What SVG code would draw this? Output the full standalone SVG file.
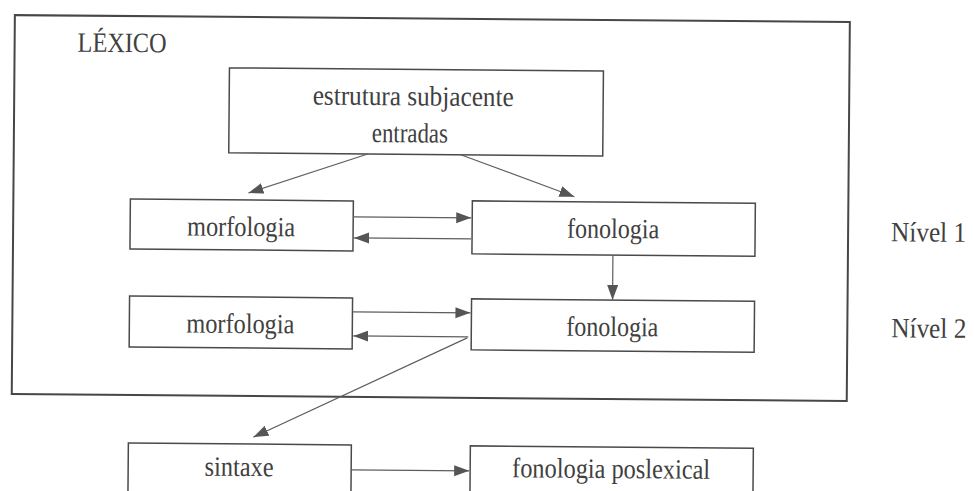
<svg xmlns="http://www.w3.org/2000/svg" width="974" height="491" viewBox="0 0 974 491">
  <style>
    .box { fill: none; stroke: #4a4a4a; stroke-width: 1.5; }
    .frame { fill: none; stroke: #474747; stroke-width: 2; }
    .lbl { font-family: "Liberation Serif", "Times New Roman", serif; font-size: 28px; fill: #404040; }
    .mid { text-anchor: middle; }
    .link { stroke: #5e5e5e; stroke-width: 1.2; fill: none; marker-end: url(#head); }
  </style>
  <defs>
    <marker id="head" markerUnits="userSpaceOnUse" markerWidth="16" markerHeight="12" refX="15" refY="5.5" orient="auto">
      <path d="M0,0 L15,5.5 L0,11 z" fill="#555555"/>
    </marker>
  </defs>
  <rect x="0" y="0" width="974" height="491" fill="#ffffff"/>

  <!-- whole figure sits slightly tilted on the page -->
  <g transform="rotate(0.47 487 245)">
    <!-- lexicon frame -->
    <g id="lexico">
      <rect class="frame" x="13" y="19" width="835" height="379"/>
      <text class="lbl" x="76" y="55" textLength="89" lengthAdjust="spacingAndGlyphs">LÉXICO</text>
    </g>

    <g id="estrutura">
      <rect class="box" x="228" y="70" width="374" height="85"/>
      <text class="lbl mid" x="412" y="106" textLength="201" lengthAdjust="spacingAndGlyphs">estrutura subjacente</text>
      <text class="lbl mid" x="409" y="143" textLength="76" lengthAdjust="spacingAndGlyphs">entradas</text>
    </g>

    <g id="morfologia1">
      <rect class="box" x="130" y="202" width="223" height="50"/>
      <text class="lbl mid" x="241" y="238" textLength="108" lengthAdjust="spacingAndGlyphs">morfologia</text>
    </g>

    <g id="fonologia1">
      <rect class="box" x="472" y="201" width="283" height="53"/>
      <text class="lbl mid" x="613" y="237" textLength="92" lengthAdjust="spacingAndGlyphs">fonologia</text>
    </g>

    <g id="morfologia2">
      <rect class="box" x="130" y="299" width="223" height="51"/>
      <text class="lbl mid" x="241" y="335" textLength="108" lengthAdjust="spacingAndGlyphs">morfologia</text>
    </g>

    <g id="fonologia2">
      <rect class="box" x="472" y="299" width="283" height="51"/>
      <text class="lbl mid" x="613" y="335" textLength="92" lengthAdjust="spacingAndGlyphs">fonologia</text>
    </g>

    <g id="sintaxe">
      <rect class="box" x="130" y="446" width="223" height="60"/>
      <text class="lbl mid" x="241" y="478" textLength="69" lengthAdjust="spacingAndGlyphs">sintaxe</text>
    </g>

    <g id="poslexical">
      <rect class="box" x="472" y="446" width="283" height="60"/>
      <text class="lbl mid" x="613" y="477" textLength="198" lengthAdjust="spacingAndGlyphs">fonologia poslexical</text>
    </g>

    <g id="nivel1">
      <text class="lbl" x="891" y="238" textLength="75" lengthAdjust="spacingAndGlyphs">Nível 1</text>
    </g>
    <g id="nivel2">
      <text class="lbl" x="892" y="334" textLength="75" lengthAdjust="spacingAndGlyphs">Nível 2</text>
    </g>

    <!-- connectors -->
    <g id="connectors">
      <line class="link" x1="367" y1="155" x2="248" y2="195"/>
      <line class="link" x1="460" y1="155" x2="574" y2="196"/>
      <line class="link" x1="353" y1="218" x2="471" y2="218"/>
      <line class="link" x1="471" y1="239" x2="354" y2="239"/>
      <line class="link" x1="613" y1="254" x2="613" y2="299"/>
      <line class="link" x1="353" y1="313" x2="471" y2="313"/>
      <line class="link" x1="469" y1="337" x2="354" y2="337"/>
      <line class="link" x1="468" y1="338" x2="255" y2="439"/>
      <line class="link" x1="353" y1="471" x2="471" y2="471"/>
    </g>
  </g>
</svg>
